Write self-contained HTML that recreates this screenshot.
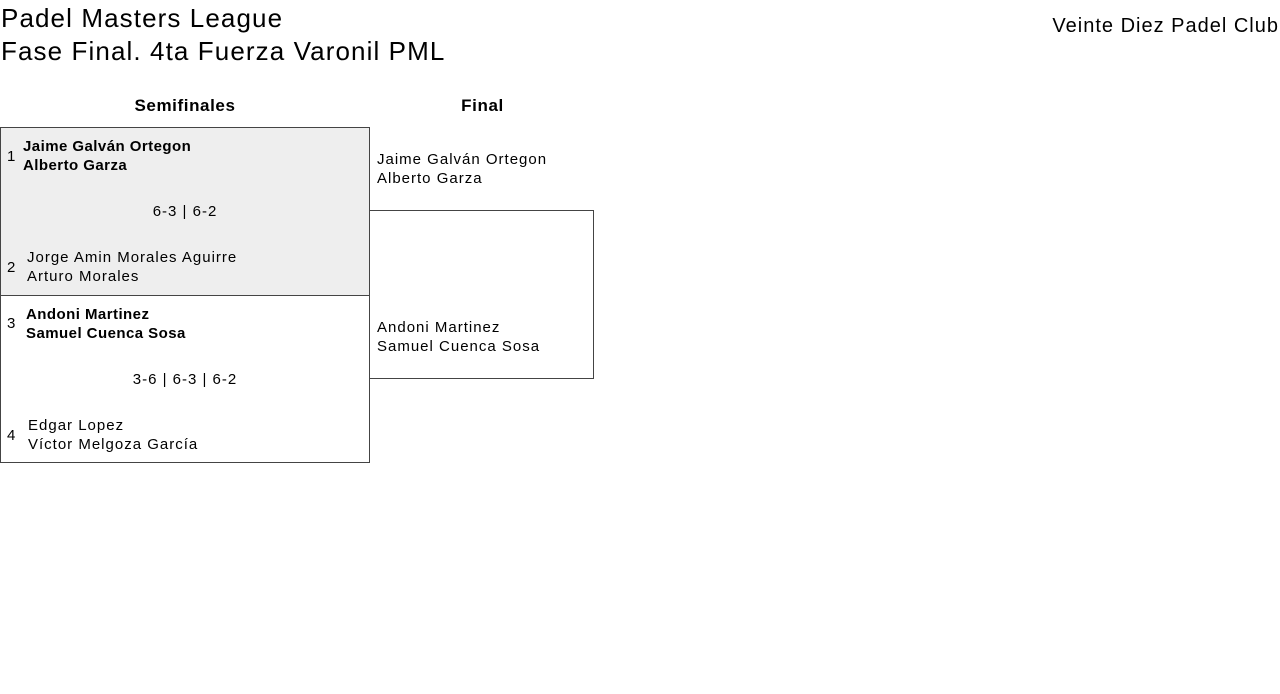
<!DOCTYPE html>
<html><head><meta charset="utf-8"><style>
body{margin:0;width:1280px;height:694px;background:#fff;font-family:"Liberation Sans",sans-serif;color:#000;position:relative;overflow:hidden}
.a{position:absolute;white-space:nowrap}
.t{font-size:26px;line-height:33px;letter-spacing:1.1px}
.s{font-size:15px;line-height:19px;letter-spacing:1px}
.b{font-weight:bold;letter-spacing:0.45px}
</style></head><body>
<div class="a t" style="left:1px;top:2px">Padel Masters League</div>
<div class="a t" style="left:1px;top:35px">Fase Final. 4ta Fuerza Varonil PML</div>
<div class="a" style="right:1px;top:15px;font-size:20px;letter-spacing:1px">Veinte Diez Padel Club</div>
<div class="a" style="left:0;width:370px;top:96px;text-align:center;font-size:17px;letter-spacing:0.6px;font-weight:bold">Semifinales</div>
<div class="a" style="left:370px;width:225px;top:96px;text-align:center;font-size:17px;letter-spacing:0.6px;font-weight:bold">Final</div>

<div class="a" style="left:0;top:127px;width:368px;height:167px;background:#eee;border:1px solid #444"></div>
<div class="a" style="left:0;top:294px;width:368px;height:168px;border:1px solid #444;border-top:none"></div>
<div class="a" style="left:369px;top:210px;width:224px;height:167px;border:1px solid #444;border-left:none"></div>

<div class="a s" style="left:7px;top:147px">1</div>
<div class="a s b" style="left:23px;top:137px">Jaime Galván Ortegon<br>Alberto Garza</div>
<div class="a s" style="left:0;width:370px;text-align:center;top:202px">6-3 | 6-2</div>
<div class="a s" style="left:7px;top:258px">2</div>
<div class="a s" style="left:27px;top:248px">Jorge Amin Morales Aguirre<br>Arturo Morales</div>

<div class="a s" style="left:7px;top:314px">3</div>
<div class="a s b" style="left:26px;top:305px">Andoni Martinez<br>Samuel Cuenca Sosa</div>
<div class="a s" style="left:0;width:370px;text-align:center;top:370px">3-6 | 6-3 | 6-2</div>
<div class="a s" style="left:7px;top:426px">4</div>
<div class="a s" style="left:28px;top:416px">Edgar Lopez<br>Víctor Melgoza García</div>

<div class="a s" style="left:377px;top:150px">Jaime Galván Ortegon<br>Alberto Garza</div>
<div class="a s" style="left:377px;top:318px">Andoni Martinez<br>Samuel Cuenca Sosa</div>
</body></html>
